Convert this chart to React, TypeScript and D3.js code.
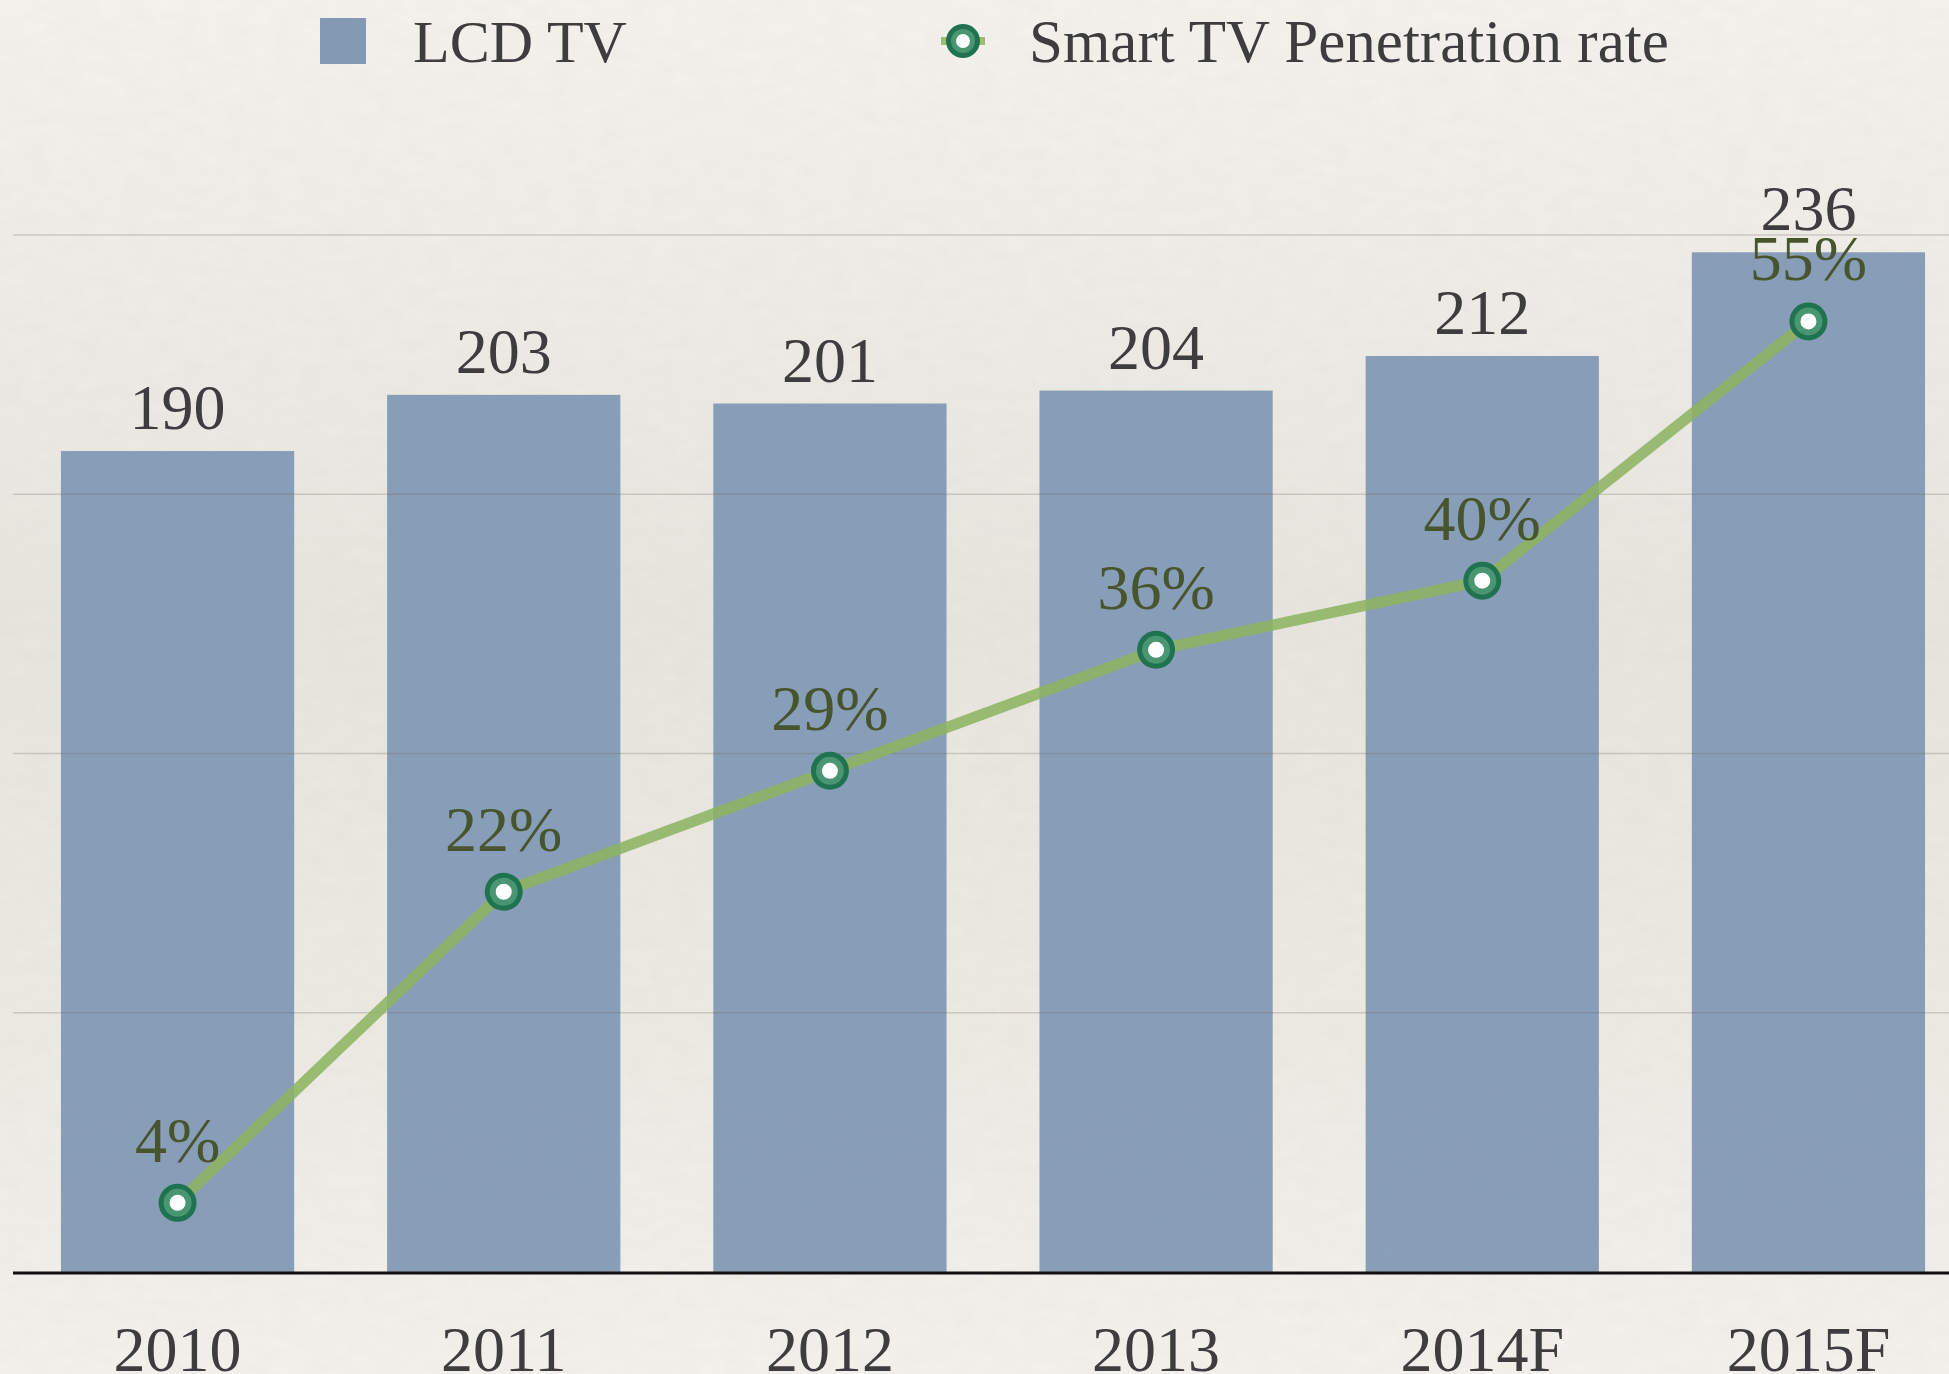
import React from 'react';
import * as d3 from 'd3';

const categories = ['2010', '2011', '2012', '2013', '2014F', '2015F'];
const lcdValues = [190, 203, 201, 204, 212, 236];
const penetration = [4, 22, 29, 36, 40, 55];
const gridTicks = [60, 120, 180, 240];
const legendLabels = ['LCD TV', 'Smart TV Penetration rate'];

const FONT = "'Palatino Linotype', Palatino, 'Book Antiqua', 'Liberation Serif', serif";

export default function App() {
  const W = 1949;
  const H = 1374;
  const x = d3.scaleBand<string>().domain(categories).range([13, 1973]).paddingInner(0.285).paddingOuter(0.147);
  const y = d3.scaleLinear().domain([0, 240]).range([1272, 235]);
  const yp = d3.scaleLinear().domain([0, 60]).range([1272, 235]);
  const cx = (c: string) => (x(c) as number) + x.bandwidth() / 2;
  const line = d3.line<number>().x((_, i) => cx(categories[i])).y((d) => yp(d));

  return (
    <svg width={W} height={H} style={{ position: 'absolute', left: 0, top: 0, display: 'block' }}>
      <defs>
        <linearGradient id="bg" x1="0" y1="0" x2="0" y2="1">
          <stop offset="0" stopColor="#f5f3ee" />
          <stop offset="0.45" stopColor="#e9e6e0" />
          <stop offset="0.75" stopColor="#eeebe5" />
          <stop offset="1" stopColor="#f4f2ed" />
        </linearGradient>
        <filter id="paper" x="0" y="0" width="100%" height="100%">
          <feTurbulence type="fractalNoise" baseFrequency="0.04 0.08" numOctaves="3" seed="4" />
          <feColorMatrix type="matrix" values="0 0 0 0 0.45  0 0 0 0 0.42  0 0 0 0 0.38  0 0 0 0.09 0" />
        </filter>
      </defs>
      <rect x={0} y={0} width={W} height={H} fill="url(#bg)" />
      <rect x={0} y={0} width={W} height={H} filter="url(#paper)" />

      {/* bars */}
      {categories.map((c, i) => (
        <rect key={c} x={x(c)} y={y(lcdValues[i])} width={x.bandwidth()} height={y(0) - y(lcdValues[i])} fill="#8399b4" fillOpacity={0.95} />
      ))}

      {/* grid lines */}
      {gridTicks.map((t) => (
        <line key={t} x1={13} x2={W} y1={y(t)} y2={y(t)} stroke="#6b6256" strokeOpacity={0.25} strokeWidth={1.5} />
      ))}

      {/* baseline */}
      <line x1={13} x2={W} y1={y(0) + 1} y2={y(0) + 1} stroke="#111" strokeWidth={3} />

      {/* bar value labels */}
      {categories.map((c, i) => (
        <text key={c} x={cx(c)} y={y(lcdValues[i]) - 22} textAnchor="middle" fontFamily={FONT} fontSize={64} fill="#3d3d3d">
          {lcdValues[i]}
        </text>
      ))}

      {/* line */}
      <path d={line(penetration) || ''} fill="none" stroke="#8db462" strokeOpacity={0.88} strokeWidth={11} strokeLinejoin="round" />

      {/* markers */}
      {categories.map((c, i) => (
        <g key={c}>
          <circle cx={cx(c)} cy={yp(penetration[i])} r={19} fill="#1f7350" />
          <circle cx={cx(c)} cy={yp(penetration[i])} r={14} fill="#4a9572" />
          <circle cx={cx(c)} cy={yp(penetration[i])} r={8} fill="#ffffff" />
        </g>
      ))}

      {/* percent labels */}
      {categories.map((c, i) => (
        <text key={c} x={cx(c)} y={yp(penetration[i]) - 41} textAnchor="middle" fontFamily={FONT} fontSize={64} fill="#46552e">
          {penetration[i]}%
        </text>
      ))}

      {/* x-axis labels */}
      {categories.map((c) => (
        <text key={c} x={cx(c)} y={1371} textAnchor="middle" fontFamily={FONT} fontSize={64} fill="#3d3d3d">
          {c}
        </text>
      ))}

      {/* legend */}
      <rect x={320} y={18} width={46} height={46} fill="#8399b4" />
      <text x={413} y={62} fontFamily={FONT} fontSize={60} fill="#3d3d3d">{legendLabels[0]}</text>
      <line x1={941} x2={985} y1={41} y2={41} stroke="#9dbb72" strokeWidth={8} />
      <circle cx={963} cy={41} r={17} fill="#1f7350" />
      <circle cx={963} cy={41} r={12} fill="#4a9572" />
      <circle cx={963} cy={41} r={7} fill="#ffffff" />
      <text x={1029} y={62} fontFamily={FONT} fontSize={61} fill="#3d3d3d">{legendLabels[1]}</text>
    </svg>
  );
}
